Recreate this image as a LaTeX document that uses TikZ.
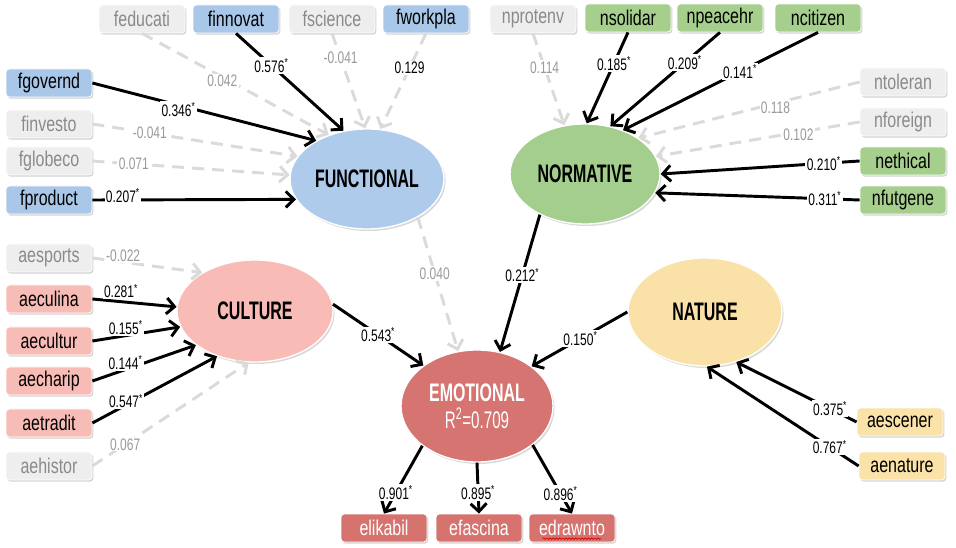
\documentclass[tikz,border=0pt]{standalone}
\usepackage{fontspec}
\setmainfont[FakeStretch=0.75]{Liberation Sans}
\newfontfamily\ellfont[FakeStretch=0.63]{Liberation Sans}
\newfontfamily\coeffont[FakeStretch=0.72]{Liberation Sans}
\usetikzlibrary{arrows.meta,shapes.geometric,shadows,decorations.pathmorphing}

\definecolor{fblue}{HTML}{A9C7E8}
\definecolor{fell}{HTML}{AECBEB}
\definecolor{ngreen}{HTML}{A6CF8E}
\definecolor{nell}{HTML}{A3CE8D}
\definecolor{cpink}{HTML}{F8BCB6}
\definecolor{cell}{HTML}{F9BBB5}
\definecolor{nyellow}{HTML}{FAE2A8}
\definecolor{nyell}{HTML}{F9E1A7}
\definecolor{ered}{HTML}{D6736F}
\definecolor{eell}{HTML}{D57470}
\definecolor{nsfill}{HTML}{EEEEEE}
\definecolor{nstext}{HTML}{8A8A8A}
\definecolor{nsline}{HTML}{DADADA}
\definecolor{lbgray}{HTML}{9A9A9A}

\newcommand\sigmark{\textsuperscript{*}}

\tikzset{
  ind/.style={rectangle, rounded corners=2.5pt, minimum width=64.5pt,
    minimum height=21pt, inner sep=0pt, draw=white, line width=0.6pt,
    font=\fontsize{16}{16}\selectfont,
    drop shadow={shadow xshift=1pt, shadow yshift=-1.2pt, opacity=0.35}},
  bluebox/.style={ind, fill=fblue},
  greenbox/.style={ind, fill=ngreen},
  pinkbox/.style={ind, fill=cpink},
  yellowbox/.style={ind, fill=nyellow},
  redbox/.style={ind, fill=ered, text=white},
  graybox/.style={ind, fill=nsfill, text=nstext},
  lat/.style={ellipse, draw=white, line width=1pt, inner sep=0pt,
    font=\ellfont\bfseries\fontsize{19}{19}\selectfont,
    drop shadow={shadow xshift=1.2pt, shadow yshift=-1.5pt, opacity=0.3}},
  sigarr/.style={draw=black, line width=2.2pt,
    -{Straight Barb[length=6pt,width=12pt]}},
  nsarr/.style={draw=nsline, line width=2.2pt, dash pattern=on 9pt off 6pt,
    -{Straight Barb[length=6pt,width=12pt]}},
  coef/.style={font=\coeffont\fontsize{12.5}{12.5}\selectfont, fill=white,
    inner sep=1pt, text=black},
  nscoef/.style={coef, text=lbgray},
}

\begin{document}
\begin{tikzpicture}[x=0.75pt, y=-0.75pt]
\useasboundingbox (0,0) rectangle (956,548);

% latent constructs
\node[lat, fill=fell, minimum width=115.5pt, minimum height=75pt] (FUN) at (367,179) {FUNCTIONAL};
\node[lat, fill=nell, minimum width=112.5pt, minimum height=75pt] (NORM) at (585,174) {NORMATIVE};
\node[lat, fill=cell, minimum width=117pt, minimum height=76.5pt] (CUL) at (255,311) {CULTURE};
\node[lat, fill=nyell, minimum width=115.5pt, minimum height=81pt] (NAT) at (705,312) {NATURE};
\node[lat, fill=eell, text=white, minimum width=114pt, minimum height=84pt, align=center] (EMO) at (477,406)
  {EMOTIONAL\\[1pt]{\mdseries\fontsize{18}{18}\selectfont R\textsuperscript{2}=0.709}};

% functional indicators
\node[graybox] (feducati) at (142,19) {feducati};
\node[bluebox] (finnovat) at (236,19) {finnovat};
\node[graybox] (fscience) at (332,19) {fscience};
\node[bluebox] (fworkpla) at (426,19) {fworkpla};
\node[bluebox] (fgovernd) at (49,83) {fgovernd};
\node[graybox] (finvesto) at (49,124) {finvesto};
\node[graybox] (fglobeco) at (49,161) {fglobeco};
\node[bluebox] (fproduct) at (49,200) {fproduct};

% normative indicators
\node[graybox] (nprotenv) at (533,19) {nprotenv};
\node[greenbox] (nsolidar) at (628,18) {nsolidar};
\node[greenbox] (npeacehr) at (720,18) {npeacehr};
\node[greenbox] (ncitizen) at (818,18) {ncitizen};
\node[graybox] (ntoleran) at (903,82) {ntoleran};
\node[graybox] (nforeign) at (903,122) {nforeign};
\node[greenbox] (nethical) at (903,161) {nethical};
\node[greenbox] (nfutgene) at (903,200) {nfutgene};

% culture indicators
\node[graybox] (aesports) at (49,258) {aesports};
\node[pinkbox] (aeculina) at (49,299) {aeculina};
\node[pinkbox] (aecultur) at (49,341) {aecultur};
\node[pinkbox] (aecharip) at (49,381) {aecharip};
\node[pinkbox] (aetradit) at (49,423) {aetradit};
\node[graybox] (aehistor) at (49,466) {aehistor};

% nature indicators
\node[yellowbox] (aescener) at (900,422) {aescener};
\node[yellowbox] (aenature) at (902,466) {aenature};

% emotional indicators
\node[redbox] (elikabil) at (384,528) {elikabil};
\node[redbox] (efascina) at (479,528) {efascina};
\node[redbox] (edrawnto) at (572,528) {edrawnto};
\draw[red!85!black, line width=0.5pt, decorate,
  decoration={snake, amplitude=0.6pt, segment length=2.4pt}]
  ([xshift=-22pt,yshift=-8pt]edrawnto.center) -- ([xshift=22pt,yshift=-8pt]edrawnto.center);

% paths into FUNCTIONAL
\draw[nsarr] (feducati.south) -- node[nscoef, pos=0.43, yshift=-3pt] {0.042} (FUN.131);
\draw[sigarr] (finnovat.south) -- node[coef, pos=0.33] {0.576\sigmark} (FUN.116);
\draw[nsarr] (fscience.south) -- node[nscoef, pos=0.26] {-0.041} (FUN.92);
\draw[nsarr] (fworkpla.south) -- node[coef, pos=0.36] {0.129} (FUN.75);
\draw[sigarr] (fgovernd.east) -- node[coef, pos=0.385, yshift=-3pt] {0.346\sigmark} (FUN.143);
\draw[nsarr] (finvesto.east) -- node[nscoef, pos=0.28] {-0.041} (FUN.162);
\draw[nsarr] (fglobeco.east) -- node[nscoef, pos=0.21] {0.071} (FUN.177);
\draw[sigarr] (fproduct.east) -- node[coef, pos=0.15, yshift=3pt] {0.207\sigmark} (FUN.196);

% paths into NORMATIVE
\draw[nsarr] (nprotenv.south) -- node[nscoef, pos=0.37] {0.114} (NORM.113);
\draw[sigarr] (nsolidar.south) -- node[coef, pos=0.34] {0.185\sigmark} (NORM.88);
\draw[sigarr] (npeacehr.south) -- node[coef, pos=0.32] {0.209\sigmark} (NORM.62);
\draw[sigarr] (ncitizen.south) -- node[coef, pos=0.40] {0.141\sigmark} (NORM.49);
\draw[nsarr] (ntoleran.west) -- node[nscoef, pos=0.38, yshift=-3pt] {0.118} (NORM.34);
\draw[nsarr] (nforeign.west) -- node[nscoef, pos=0.30, yshift=-2pt] {0.102} (NORM.14);
\draw[sigarr] (nethical.west) -- node[coef, pos=0.18] {0.210\sigmark} (NORM.0);
\draw[sigarr] (nfutgene.west) -- node[coef, pos=0.17] {0.311\sigmark} (NORM.-15);

% paths into CULTURE
\draw[nsarr] (aesports.east) -- node[nscoef, pos=0.28, yshift=5pt] {-0.022} (CUL.144);
\draw[sigarr] (aeculina.east) -- node[coef, pos=0.34, yshift=8pt] {0.281\sigmark} (CUL.177);
\draw[sigarr] (aecultur.east) -- node[coef, pos=0.38, yshift=6pt] {0.155\sigmark} (CUL.192);
\draw[sigarr] (aecharip.east) -- node[coef, pos=0.32, yshift=5pt] {0.144\sigmark} (CUL.210);
\draw[sigarr] (aetradit.east) -- node[coef, pos=0.27, yshift=3pt] {0.547\sigmark} (CUL.230);
\draw[nsarr] (aehistor.east) -- node[nscoef, pos=0.21] {0.067} (CUL.263);

% paths into NATURE
\draw[sigarr] (aescener.west) -- node[coef, pos=0.22] {0.375\sigmark} (NAT.302);
\draw[sigarr] (aenature.west) -- node[coef, pos=0.19] {0.767\sigmark} (NAT.272);

% structural paths into EMOTIONAL
\draw[nsarr] (FUN.-37) -- node[nscoef, pos=0.42] {0.040} (EMO.109);
\draw[sigarr] (NORM.222) -- node[coef, pos=0.44] {0.212\sigmark} (EMO.67);
\draw[sigarr] (CUL.5) -- node[coef, pos=0.50] {0.543\sigmark} (EMO.143);
\draw[sigarr] (NAT.180) -- node[coef, pos=0.49] {0.150\sigmark} (EMO.36);

% EMOTIONAL indicators
\draw[sigarr] (EMO.216) -- node[coef, pos=0.69] {0.901\sigmark} (elikabil.north);
\draw[sigarr] (EMO.270) -- node[coef, pos=0.59] {0.895\sigmark} (efascina.north);
\draw[sigarr] (EMO.325) -- node[coef, pos=0.71] {0.896\sigmark} (edrawnto.north);
\end{tikzpicture}
\end{document}
